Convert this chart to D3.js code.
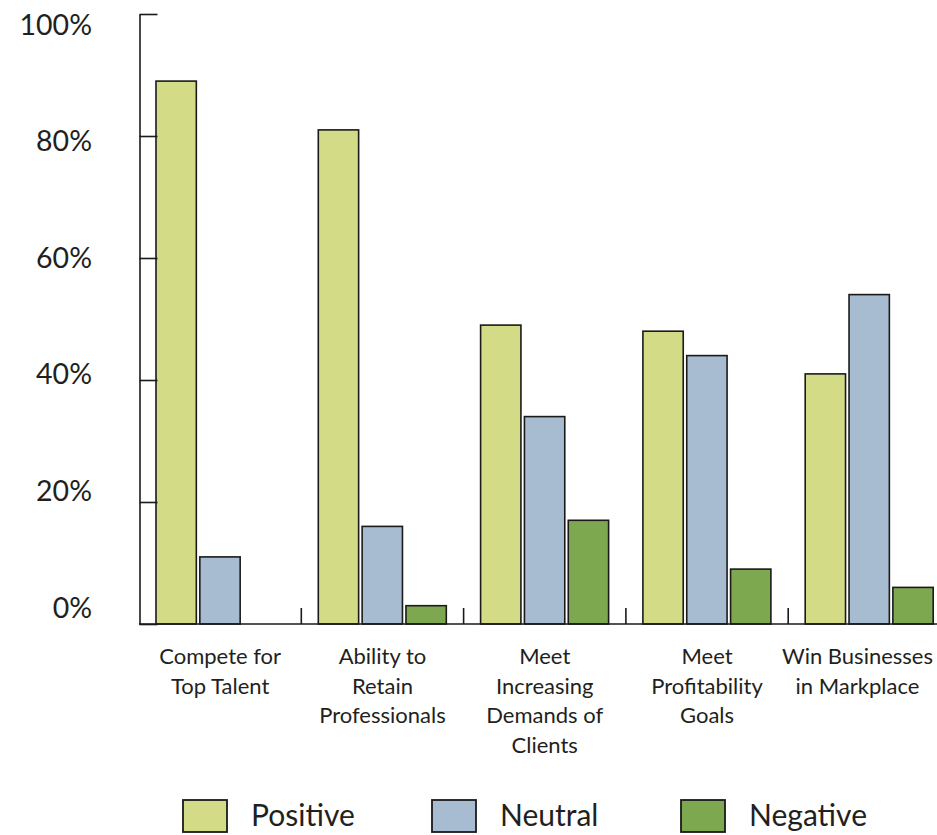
<!DOCTYPE html>
<html>
<head>
<meta charset="utf-8">
<script src="https://cdn.jsdelivr.net/npm/d3@7"></script>
<style>
  body { margin: 0; background: #fff; }
  text { font-family: Lato, "Open Sans", sans-serif; fill: #231f20; }
</style>
</head>
<body>
<script>
const categories = ['Compete for\nTop Talent', 'Ability to\nRetain\nProfessionals', 'Meet\nIncreasing\nDemands of\nClients', 'Meet\nProfitability\nGoals', 'Win Businesses\nin Markplace']
const series = ['Positive', 'Neutral', 'Negative']
const positive = [89, 81, 49, 48, 41]
const neutral = [11, 16, 34, 44, 54]
const negative = [0, 3, 17, 9, 6]
const tickValues = [0, 20, 40, 60, 80, 100]

const width = 937
const height = 835
const colors = { Positive: '#d4db86', Neutral: '#a7bbd1', Negative: '#7ea850' }

const rows = categories.map((c, i) => ({ cat: c, Positive: positive[i], Neutral: neutral[i], Negative: negative[i] }))

const svg = d3.select('body').append('svg')
        .attr('width', width)
        .attr('height', height)

const x0 = d3.scaleBand()
        .domain(categories)
        .range([139, 139 + 5 * 162.3])

const x1 = d3.scaleBand()
        .domain(series)
        .range([17, 145])
        .paddingInner(0.08)

const y = d3.scaleLinear()
        .domain([0, 100])
        .range([624, 14])

// label positions in the source drift a little from the ticks
const yLabel = d3.scaleLinear()
        .domain([0, 100])
        .range([608, 25])

// bars
svg.append('g')
    .selectAll('g')
    .data(rows)
    .join('g')
        .attr('transform', d => 'translate(' + x0(d.cat) + ',0)')
    .selectAll('rect')
    .data(d => series.map(k => ({ key: k, value: d[k] })).filter(d => d.value > 0))
    .join('rect')
        .attr('x', d => x1(d.key))
        .attr('y', d => y(d.value))
        .attr('width', x1.bandwidth())
        .attr('height', d => y(0) - y(d.value))
        .attr('fill', d => colors[d.key])
        .attr('stroke', '#1a1a1a')
        .attr('stroke-width', 1.6)

// y axis: ticks point inward, no labels
svg.append('g')
        .attr('transform', 'translate(139.5,0)')
        .call(d3.axisLeft(y).tickValues(tickValues).tickSizeInner(-18).tickSizeOuter(0).tickFormat(''))
        .call(g => g.selectAll('line, path').attr('stroke', '#1a1a1a').attr('stroke-width', 1.6))

svg.append('g')
        .attr('transform', 'translate(92,0)')
        .call(d3.axisLeft(yLabel).tickValues(tickValues).tickSize(0).tickPadding(0).tickFormat(d => d + '%'))
        .call(g => g.select('.domain').remove())
        .call(g => g.selectAll('text').attr('font-size', 28.5).attr('font-family', 'Lato, sans-serif').attr('fill', '#231f20'))

// baseline
svg.append('line')
        .attr('x1', 139).attr('x2', width)
        .attr('y1', y(0)).attr('y2', y(0))
        .attr('stroke', '#1a1a1a')
        .attr('stroke-width', 1.6)

// group separators
svg.append('g')
    .selectAll('line')
    .data(categories.slice(1))
    .join('line')
        .attr('x1', d => x0(d)).attr('x2', d => x0(d))
        .attr('y1', y(0)).attr('y2', y(0) - 16)
        .attr('stroke', '#1a1a1a')
        .attr('stroke-width', 1.6)

// category labels
const catLabels = svg.append('g')
    .selectAll('text')
    .data(categories)
    .join('text')
        .attr('x', d => x0(d) + x0.bandwidth() / 2)
        .attr('y', 664)
        .attr('text-anchor', 'middle')
        .attr('font-size', 22)

catLabels.selectAll('tspan')
    .data(d => d.split('\n'))
    .join('tspan')
        .attr('x', function () { return this.parentNode.getAttribute('x') })
        .attr('dy', (d, i) => i === 0 ? 0 : 29.5)
        .text(d => d)

// keep the last label inside the page
catLabels.each(function () {
    const box = this.getBBox()
    const over = box.x + box.width - (width - 4)
    if (over > 0) {
        const nx = +this.getAttribute('x') - over
        d3.select(this).attr('x', nx).selectAll('tspan').attr('x', nx)
    }
})

// legend
const legend = svg.append('g')
    .selectAll('g')
    .data(series)
    .join('g')
        .attr('transform', (d, i) => 'translate(' + (183 + i * 249) + ',800)')

legend.append('rect')
        .attr('width', 44)
        .attr('height', 32)
        .attr('fill', d => colors[d])
        .attr('stroke', '#1a1a1a')
        .attr('stroke-width', 1.8)

legend.append('text')
        .attr('x', 68)
        .attr('y', 26)
        .attr('font-size', 30)
        .text(d => d)
</script>
</body>
</html>
